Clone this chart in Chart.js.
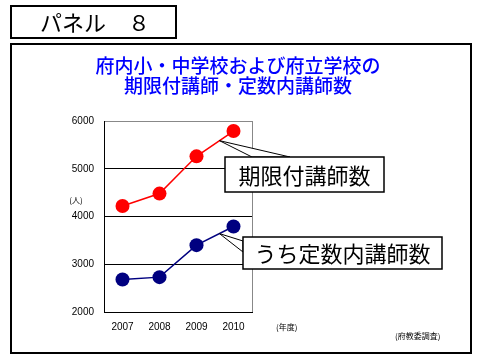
<!DOCTYPE html>
<html lang="ja">
<head>
    <meta charset="UTF-8">
    <title>パネル 8</title>
    <script src="https://cdn.jsdelivr.net/npm/chart.js"></script>
    <style>
        body { margin: 0; background: #fff; }
        canvas { display: block; }
    </style>
</head>
<body>
    <canvas id="panelChart" width="480" height="360"></canvas>

    <script>
        // data
        const years = ["2007", "2008", "2009", "2010"];
        const fixedTermTeachers = [4220, 4480, 5260, 5790];   // 期限付講師数
        const quotaTeachers = [2680, 2730, 3400, 3790];       // うち定数内講師数
        const yTicks = [2000, 3000, 4000, 5000, 6000];

        const jp = '"Noto Sans CJK JP", sans-serif';

        function callout(ctx, tip, base1, base2, box, text) {
            ctx.save();
            ctx.fillStyle = "#fff";
            ctx.strokeStyle = "#000";
            ctx.lineWidth = 1;
            ctx.beginPath();
            ctx.moveTo(tip.x, tip.y);
            ctx.lineTo(base1.x, base1.y);
            ctx.lineTo(base2.x, base2.y);
            ctx.closePath();
            ctx.fill();
            ctx.stroke();
            ctx.lineWidth = 1.5;
            ctx.fillRect(box.x, box.y, box.w, box.h);
            ctx.strokeRect(box.x, box.y, box.w, box.h);
            ctx.fillStyle = "#000";
            ctx.font = "22px " + jp;
            ctx.textAlign = "center";
            ctx.textBaseline = "middle";
            ctx.fillText(text, box.x + box.w / 2, box.y + box.h / 2 + 1);
            ctx.restore();
        }

        // point part way along the last segment of a series
        function tipOf(chart, idx) {
            const pts = chart.getDatasetMeta(idx).data;
            const a = pts[pts.length - 2], b = pts[pts.length - 1];
            const t = 0.62;
            return { x: a.x + (b.x - a.x) * t, y: a.y + (b.y - a.y) * t };
        }

        const panelDecor = {
            id: "panelDecor",
            beforeDraw(chart) {
                const ctx = chart.ctx;
                ctx.save();
                ctx.fillStyle = "#fff";
                ctx.fillRect(0, 0, chart.width, chart.height);

                ctx.strokeStyle = "#000";
                ctx.lineWidth = 2;
                ctx.strokeRect(11, 6, 165, 32);
                ctx.strokeRect(11, 44, 460, 309);

                ctx.fillStyle = "#000";
                ctx.font = "22px " + jp;
                ctx.textBaseline = "middle";
                ctx.fillText("パネル　８", 40, 23);

                ctx.fillStyle = "#0000ff";
                ctx.font = "500 19px " + jp;
                ctx.textAlign = "center";
                ctx.fillText("府内小・中学校および府立学校の", 238, 66);
                ctx.fillText("期限付講師・定数内講師数", 238, 86);

                ctx.fillStyle = "#000";
                ctx.font = "8px " + jp;
                ctx.fillText("(人)", 76, 200);
                ctx.textAlign = "left";
                ctx.fillText("(年度)", 276, 327);
                ctx.fillText("(府教委調査)", 395, 336);
                ctx.restore();
            },
            beforeDatasetsDraw(chart) {
                const ctx = chart.ctx, a = chart.chartArea;
                ctx.save();
                ctx.strokeStyle = "#888";
                ctx.lineWidth = 1;
                ctx.beginPath();
                ctx.moveTo(Math.round(a.right) + 0.5, a.top);
                ctx.lineTo(Math.round(a.right) + 0.5, a.bottom);
                ctx.stroke();
                ctx.restore();
            },
            afterDraw(chart) {
                const ctx = chart.ctx;
                const t1 = tipOf(chart, 0);
                callout(ctx, t1, { x: 252, y: 157 }, { x: 290, y: 157 },
                    { x: 225, y: 157, w: 159, h: 35 }, "期限付講師数");
                const t2 = tipOf(chart, 1);
                callout(ctx, t2, { x: 243, y: 241 }, { x: 243, y: 252 },
                    { x: 243, y: 237, w: 199, h: 32 }, "うち定数内講師数");
            }
        };

        new Chart(document.getElementById("panelChart").getContext("2d"), {
            type: "line",
            data: {
                labels: years,
                datasets: [
                    {
                        label: "期限付講師数",
                        data: fixedTermTeachers,
                        borderColor: "#ff0000",
                        backgroundColor: "#ff0000",
                        borderWidth: 1.5,
                        pointRadius: 7,
                        pointBorderWidth: 0,
                        tension: 0
                    },
                    {
                        label: "うち定数内講師数",
                        data: quotaTeachers,
                        borderColor: "#000080",
                        backgroundColor: "#000080",
                        borderWidth: 1.5,
                        pointRadius: 7,
                        pointBorderWidth: 0,
                        tension: 0
                    }
                ]
            },
            options: {
                responsive: false,
                devicePixelRatio: 1,
                animation: false,
                layout: { padding: { left: 64, top: 121, right: 228, bottom: 28 } },
                plugins: {
                    legend: { display: false },
                    tooltip: { enabled: false },
                    title: { display: false }
                },
                scales: {
                    x: {
                        offset: true,
                        afterFit: s => { s.height = 20; },
                        grid: { display: false, drawTicks: false },
                        border: { color: "#000", width: 1 },
                        ticks: {
                            padding: 9,
                            color: "#000",
                            font: { family: "Liberation Sans", size: 10 }
                        }
                    },
                    y: {
                        min: 2000,
                        max: 6000,
                        afterFit: s => { s.width = 40; },
                        afterBuildTicks: s => { s.ticks = yTicks.map(v => ({ value: v })); },
                        grid: {
                            drawTicks: false,
                            color: c => (c.tick && c.tick.value === 6000 ? "#888" : "#000")
                        },
                        border: { color: "#000", width: 1 },
                        ticks: {
                            padding: 10,
                            color: "#000",
                            font: { family: "Liberation Sans", size: 10 },
                            callback: v => String(v)
                        }
                    }
                }
            },
            plugins: [panelDecor]
        });
    </script>
</body>
</html>
